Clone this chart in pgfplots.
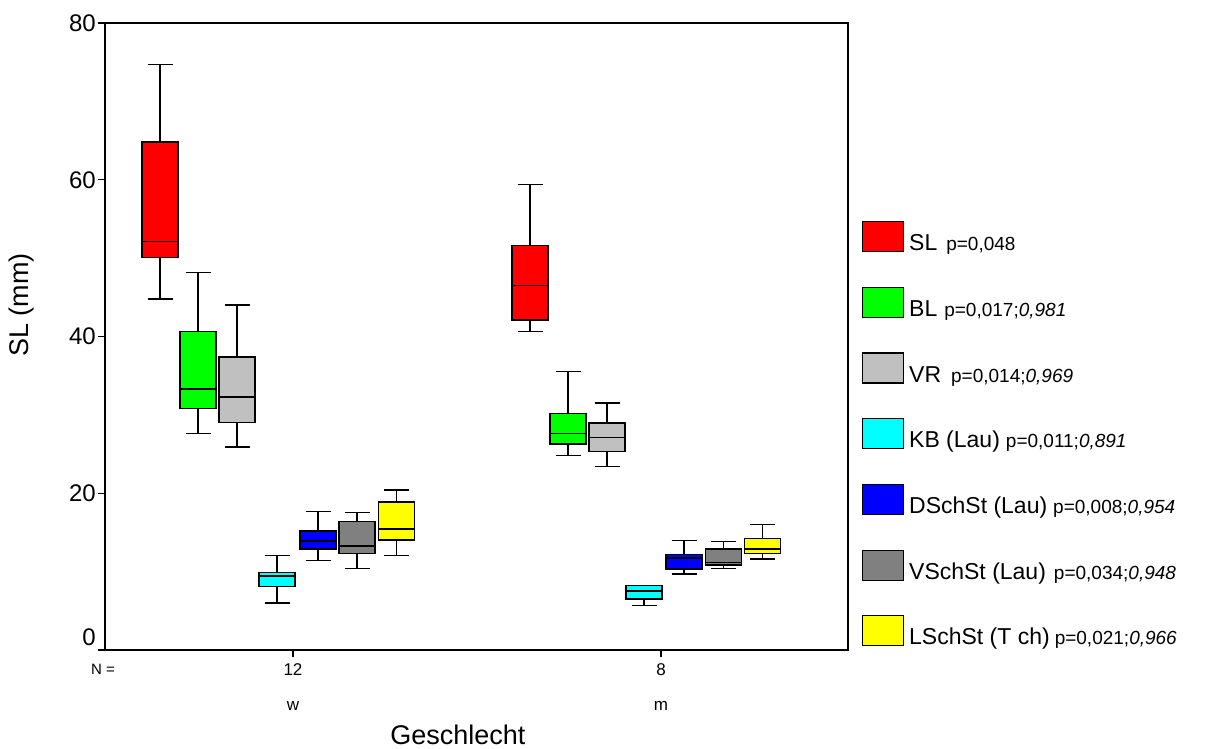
\documentclass[border=0pt]{standalone}
\usepackage{fontspec}
\setmainfont{Liberation Sans}
\usepackage{pgfplots}
\pgfplotsset{compat=1.18}
\usepgfplotslibrary{statistics}
\definecolor{cRed}{RGB}{255,0,0}
\definecolor{cGreen}{RGB}{0,255,0}
\definecolor{cVR}{RGB}{192,192,192}
\definecolor{cCyan}{RGB}{0,255,255}
\definecolor{cBlue}{RGB}{0,0,255}
\definecolor{cVS}{RGB}{128,128,128}
\definecolor{cYellow}{RGB}{255,255,0}
\newcommand{\lt}[1]{{\fontsize{23}{25}\selectfont #1}}
\newcommand{\pt}[1]{{\fontsize{19}{21}\selectfont #1}}
\pgfplotsset{bx/.style={forget plot, draw=black, line width=1.3pt,
  boxplot/every median/.style={draw=black, line width=1.6pt},
  boxplot/every box/.style={draw=black, line width=1.3pt},
  boxplot/every whisker/.style={draw=black, line width=1.3pt}}}
\begin{document}
\begin{tikzpicture}
\path[use as bounding box] (0,0) rectangle (1205pt,749pt);
\begin{axis}[
  at={(105pt,99pt)}, anchor=south west,
  scale only axis, width=743pt, height=627pt,
  xmin=105, xmax=848, ymin=0, ymax=80,
  clip=false,
  axis line style={line width=1.3pt, black},
  tick style={line width=1.3pt, black},
  tick align=outside, major tick length=7pt,
  xtick pos=bottom, ytick pos=left,
  ytick={20,40,60,80},
  extra y ticks={0},
  extra y tick style={yticklabel style={yshift=13pt}},
  xtick={293,661},
  xticklabels={{12\\[0pt]w},{8\\[0pt]m}},
  /pgf/number format/assume math mode=true,
  yticklabel style={font=\fontsize{24}{26}\selectfont, inner sep=2pt},
  xticklabel style={font=\fontsize{17}{35}\selectfont, align=center, inner sep=2pt, yshift=-4pt},
  xlabel={Geschlecht},
  xlabel style={font=\fontsize{27}{30}\selectfont, at={(axis description cs:0.475,0)}, anchor=base, yshift=-95pt},
  ylabel={SL (mm)},
  ylabel style={font=\fontsize{27}{30}\selectfont, at={(axis description cs:-0.1117,0.55)}, anchor=center},
  boxplot/draw direction=y,
  boxplot/box extend=36,
  boxplot/whisker extend=25,
  legend image code/.code={\draw[#1,draw=black,line width=1.2pt] (0pt,-8pt) rectangle (41pt,22pt);},
  legend cell align=left,
  legend style={at={(axis description cs:1.0188,0.6842)}, anchor=north west,
    draw=none, fill=none, inner sep=0pt, outer sep=0pt,
    row sep=28.1pt, column sep=5pt,
    nodes={inner sep=0pt, outer sep=0pt, text height=22pt, text depth=8pt}},
]
% group w
\addplot[bx, fill=cRed, boxplot prepared={draw position=160, lower whisker=44.8, lower quartile=50.1, median=52.1, upper quartile=64.8, upper whisker=74.7}] coordinates {};
\addplot[bx, fill=cGreen, boxplot prepared={draw position=198, lower whisker=27.6, lower quartile=30.8, median=33.3, upper quartile=40.6, upper whisker=48.2}] coordinates {};
\addplot[bx, fill=cVR, boxplot prepared={draw position=237, lower whisker=25.9, lower quartile=29.0, median=32.3, upper quartile=37.4, upper whisker=44.0}] coordinates {};
\addplot[bx, fill=cCyan, boxplot prepared={draw position=277, lower whisker=6.0, lower quartile=8.1, median=9.45, upper quartile=9.9, upper whisker=12.1}] coordinates {};
\addplot[bx, fill=cBlue, boxplot prepared={draw position=318, lower whisker=11.4, lower quartile=12.9, median=13.9, upper quartile=15.2, upper whisker=17.7}] coordinates {};
\addplot[bx, fill=cVS, boxplot prepared={draw position=357, lower whisker=10.4, lower quartile=12.3, median=13.3, upper quartile=16.4, upper whisker=17.5}] coordinates {};
\addplot[bx, fill=cYellow, boxplot prepared={draw position=396.5, lower whisker=12.1, lower quartile=14.05, median=15.4, upper quartile=18.9, upper whisker=20.4}] coordinates {};
% group m
\addplot[bx, fill=cRed, boxplot prepared={draw position=530, lower whisker=40.6, lower quartile=42.1, median=46.5, upper quartile=51.6, upper whisker=59.4}] coordinates {};
\addplot[bx, fill=cGreen, boxplot prepared={draw position=568, lower whisker=24.8, lower quartile=26.3, median=27.6, upper quartile=30.2, upper whisker=35.5}] coordinates {};
\addplot[bx, fill=cVR, boxplot prepared={draw position=607, lower whisker=23.4, lower quartile=25.3, median=27.1, upper quartile=28.95, upper whisker=31.5}] coordinates {};
\addplot[bx, fill=cCyan, boxplot prepared={draw position=644, lower whisker=5.7, lower quartile=6.5, median=7.5, upper quartile=8.2, upper whisker=8.2}] coordinates {};
\addplot[bx, fill=cBlue, boxplot prepared={draw position=684, lower whisker=9.7, lower quartile=10.35, median=11.75, upper quartile=12.2, upper whisker=14.0}] coordinates {};
\addplot[bx, fill=cVS, boxplot prepared={draw position=723.5, lower whisker=10.4, lower quartile=10.85, median=11.15, upper quartile=12.9, upper whisker=13.8}] coordinates {};
\addplot[bx, fill=cYellow, boxplot prepared={draw position=762.7, lower whisker=11.6, lower quartile=12.35, median=12.9, upper quartile=14.2, upper whisker=16.0}] coordinates {};
% legend
\addlegendimage{fill=cRed}\addlegendentry{\lt{SL}\hspace{9pt}\pt{p=0,048}}
\addlegendimage{fill=cGreen}\addlegendentry{\lt{BL}\hspace{7pt}\pt{p=0,017;\textit{0,981}}}
\addlegendimage{fill=cVR}\addlegendentry{\lt{VR}\hspace{10pt}\pt{p=0,014;\textit{0,969}}}
\addlegendimage{fill=cCyan}\addlegendentry{\lt{KB (Lau)}\hspace{6pt}\pt{p=0,011;\textit{0,891}}}
\addlegendimage{fill=cBlue}\addlegendentry{\lt{DSchSt (Lau)}\hspace{6pt}\pt{p=0,008;\textit{0,954}}}
\addlegendimage{fill=cVS}\addlegendentry{\lt{VSchSt (Lau)}\hspace{8pt}\pt{p=0,034;\textit{0,948}}}
\addlegendimage{fill=cYellow}\addlegendentry{\lt{LSchSt (T ch)}\hspace{5pt}\pt{p=0,021;\textit{0,966}}}
\end{axis}
\node[font=\fontsize{15}{17}\selectfont, anchor=center] at (103pt,80pt) {N =};
\end{tikzpicture}
\end{document}
